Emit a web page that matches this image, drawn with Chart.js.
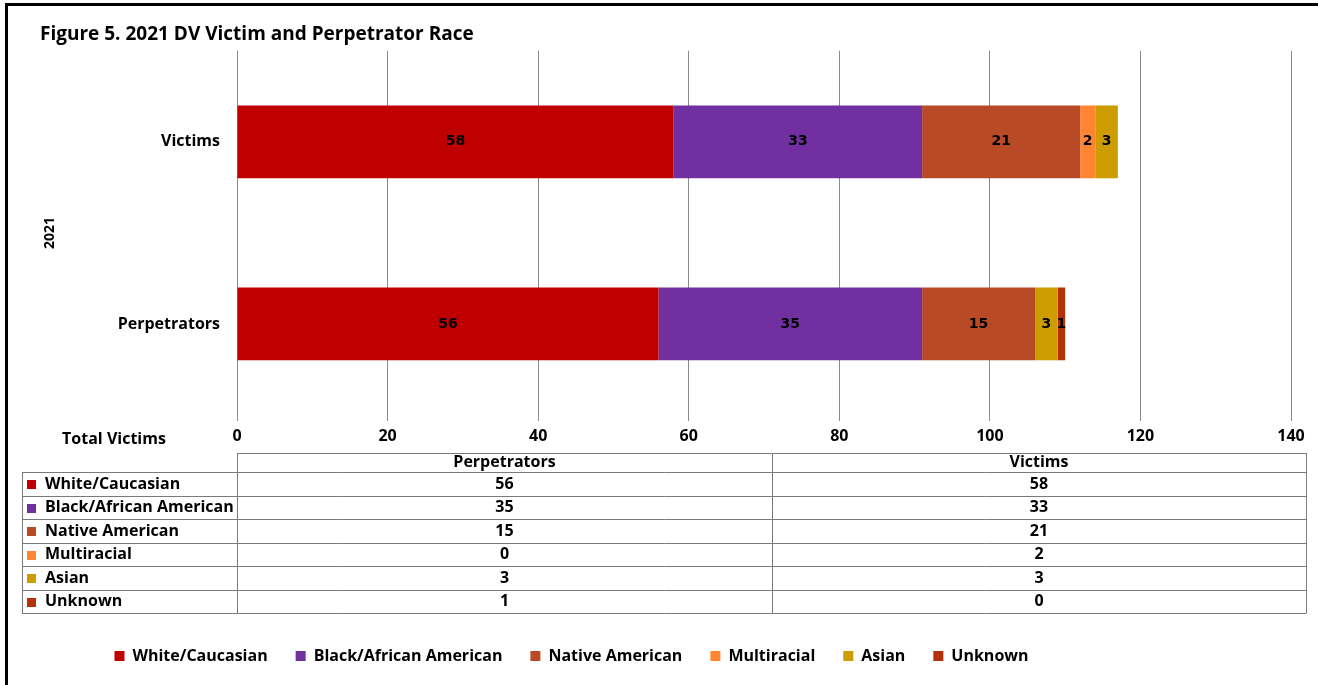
<!DOCTYPE html>
<html>
<head>
<meta charset="utf-8">
<script src="https://cdn.jsdelivr.net/npm/chart.js@4.4.1/dist/chart.umd.min.js"></script>
<style>
  html, body { margin: 0; padding: 0; background: #fff; }
  #wrap { position: relative; width: 1318px; height: 685px; overflow: hidden; }
  #frame { position: absolute; left: 5px; top: 3px; width: 1400px; height: 800px;
           border-left: 3px solid #000; border-top: 3px solid #000; }
  canvas { position: absolute; left: 0; top: 0; }
</style>
</head>
<body>
<div id="wrap">
  <div id="frame"></div>
  <canvas id="raceChart" width="1318" height="685"></canvas>
</div>
<script>
// bars, top to bottom
const categories = ["Victims", "Perpetrators"];
const races = ["White/Caucasian", "Black/African American", "Native American", "Multiracial", "Asian", "Unknown"];
const raceColors = ["#C00000", "#7030A0", "#B84A26", "#FF8533", "#CC9C00", "#B63008"];
const victims = [58, 33, 21, 2, 3, 0];
const perpetrators = [56, 35, 15, 0, 3, 1];
// data table columns (Excel puts them in reverse order)
const tableColumns = ["Perpetrators", "Victims"];
const tableValues = [perpetrators, victims];

const boldFont = "'Open Sans'";

// one dataset per race, stacked
const datasets = races.map((race, i) => ({
  label: race,
  data: [victims[i], perpetrators[i]],
  backgroundColor: raceColors[i],
  borderWidth: 0
}));

// numbers in the middle of every segment
const barLabels = {
  id: "barLabels",
  afterDatasetsDraw(chart) {
    const ctx = chart.ctx;
    ctx.save();
    ctx.font = "bold 14px 'DejaVu Sans'";
    ctx.fillStyle = "#000";
    ctx.textAlign = "center";
    ctx.textBaseline = "middle";
    chart.data.datasets.forEach((ds, i) => {
      chart.getDatasetMeta(i).data.forEach((bar, j) => {
        const v = ds.data[j];
        if (!v) return;
        const c = bar.getCenterPoint();
        ctx.fillText(v, c.x, c.y);
      });
    });
    ctx.restore();
  }
};

// legend sits left of centre in the original
const moveLegend = {
  id: "moveLegend",
  afterLayout(chart) {
    chart.legend.left -= 94;
    chart.legend.right -= 94;
  }
};

// data table under the axis
const dataTable = {
  id: "dataTable",
  afterDraw(chart) {
    const ctx = chart.ctx;
    const area = chart.chartArea;
    const xScale = chart.scales.x;
    const left = 22;
    const colX = Math.round(area.left);
    const right = Math.round(area.right) + 15;
    const midX = Math.round((colX + right) / 2);
    const top = Math.round(xScale.top) + 38;
    const headH = 19;
    const rowH = 23.5;
    const rowY = i => Math.round(top + headH + i * rowH);
    const bottom = rowY(races.length);

    ctx.save();
    ctx.fillStyle = "#000";
    ctx.font = "bold 16px " + boldFont;
    ctx.textAlign = "center";
    ctx.textBaseline = "middle";
    ctx.fillText("Total Victims", 114, xScale.top + 24);

    ctx.strokeStyle = "#7a7a7a";
    ctx.lineWidth = 1;
    ctx.beginPath();
    ctx.moveTo(colX, top + 0.5);
    ctx.lineTo(right, top + 0.5);
    for (let i = 0; i <= races.length; i++) {
      ctx.moveTo(left, rowY(i) + 0.5);
      ctx.lineTo(right + 0.5, rowY(i) + 0.5);
    }
    [colX, midX, right].forEach(x => {
      ctx.moveTo(x + 0.5, top);
      ctx.lineTo(x + 0.5, bottom);
    });
    ctx.moveTo(left + 0.5, rowY(0));
    ctx.lineTo(left + 0.5, bottom);
    ctx.stroke();

    // header
    const colCentre = [(colX + midX) / 2, (midX + right) / 2];
    tableColumns.forEach((name, c) => {
      ctx.fillText(name, colCentre[c], top + headH / 2);
    });

    // rows
    races.forEach((race, i) => {
      const yMid = (rowY(i) + rowY(i + 1)) / 2;
      ctx.fillStyle = raceColors[i];
      ctx.fillRect(27, Math.round(yMid - 4), 9, 9);
      ctx.fillStyle = "#000";
      ctx.textAlign = "left";
      ctx.fillText(race, 45, yMid);
      ctx.textAlign = "center";
      tableValues.forEach((vals, c) => {
        ctx.fillText(vals[i], colCentre[c], yMid);
      });
    });
    ctx.restore();
  }
};

new Chart(document.getElementById("raceChart"), {
  type: "bar",
  data: {
    labels: categories,
    datasets: datasets
  },
  options: {
    indexAxis: "y",
    responsive: false,
    animation: false,
    layout: {
      padding: { left: 40, right: 27, top: 22, bottom: 11 }
    },
    datasets: {
      bar: { barPercentage: 0.4, categoryPercentage: 1 }
    },
    scales: {
      x: {
        stacked: true,
        min: 0,
        max: 140,
        ticks: {
          stepSize: 20,
          color: "#000",
          padding: 6,
          font: { family: boldFont, weight: "bold", size: 16 }
        },
        grid: { color: "#8a8a8a", lineWidth: 1, tickLength: 6 },
        border: { display: false },
        afterFit(scale) { scale.height = 205; }
      },
      y: {
        stacked: true,
        grid: { display: false },
        border: { display: false },
        ticks: {
          color: "#000",
          padding: 9,
          font: { family: boldFont, weight: "bold", size: 16 }
        },
        title: {
          display: true,
          text: "2021",
          color: "#000",
          padding: { top: 2, bottom: 0 },
          font: { family: boldFont, weight: "bold", size: 14 }
        },
        afterFit(scale) { scale.width = 197; }
      }
    },
    plugins: {
      title: {
        display: true,
        text: "Figure 5. 2021 DV Victim and Perpetrator Race",
        align: "start",
        color: "#000",
        padding: { top: 1, bottom: 5 },
        font: { family: boldFont, weight: "bold", size: 19 }
      },
      legend: {
        position: "bottom",
        labels: {
          boxWidth: 10,
          boxHeight: 10,
          padding: 28,
          color: "#000",
          font: { family: boldFont, weight: "bold", size: 16 }
        }
      },
      tooltip: { enabled: false }
    }
  },
  plugins: [barLabels, moveLegend, dataTable]
});
</script>
</body>
</html>
